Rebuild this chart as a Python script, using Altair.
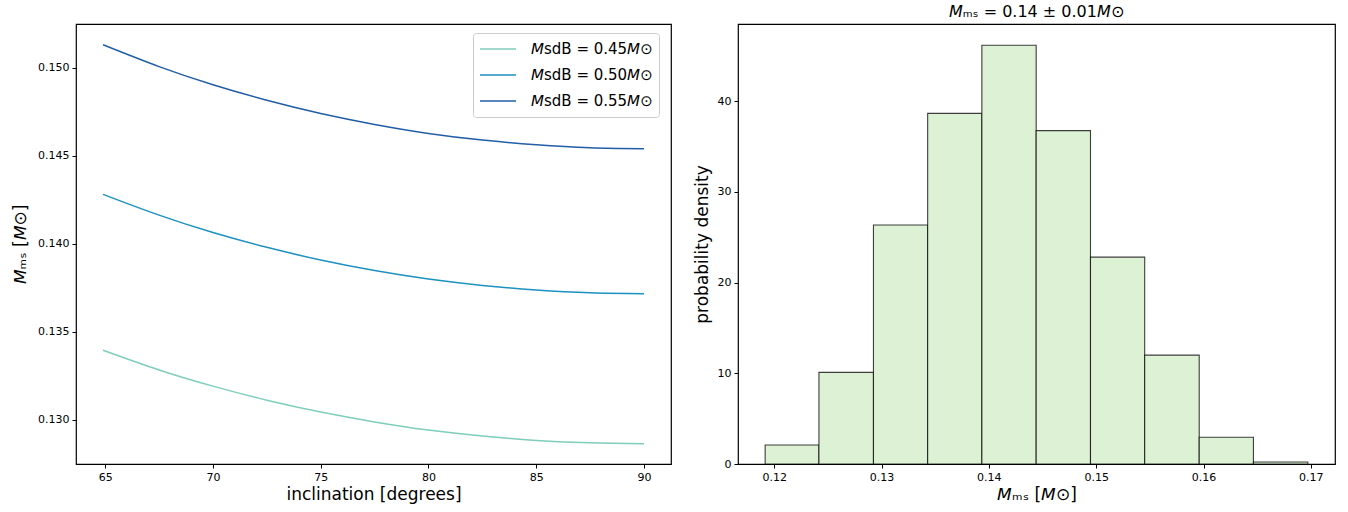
import altair as alt
import pandas as pd

# ---- left panel data ----
incl = [64.9, 67.5, 70, 72.5, 75, 77.5, 80, 82.5, 85, 87.5, 90]
m_045 = [0.13396, 0.13284, 0.13192, 0.13112, 0.13045, 0.12989, 0.12943, 0.12909, 0.12884, 0.12870, 0.12865]
m_050 = [0.14281, 0.14163, 0.14064, 0.13980, 0.13908, 0.13848, 0.13800, 0.13764, 0.13738, 0.13722, 0.13717]
m_055 = [0.15130, 0.15006, 0.14903, 0.14815, 0.14740, 0.14678, 0.14627, 0.14589, 0.14562, 0.14545, 0.14540]
series_names = ["𝘔sdB = 0.45𝘔⊙", "𝘔sdB = 0.50𝘔⊙", "𝘔sdB = 0.55𝘔⊙"]
series_colors = ["#7fcdbb", "#1d91c0", "#225ea8"]

# ---- right panel data (histogram) ----
bin_lo = [0.11916, 0.12417, 0.12925, 0.13430, 0.13935, 0.14441, 0.14947, 0.15452, 0.15960, 0.16465]
bin_hi = [0.12417, 0.12925, 0.13430, 0.13935, 0.14441, 0.14947, 0.15452, 0.15960, 0.16465, 0.16972]
density = [2.1, 10.1, 26.35, 38.65, 46.15, 36.75, 22.8, 12.0, 2.95, 0.22]

FONT = "DejaVu Sans"

rows = []
for name, vals in zip(series_names, [m_045, m_050, m_055]):
    for i, m in zip(incl, vals):
        rows.append({"incl": i, "mass": m, "series": name})
df_lines = pd.DataFrame(rows)

df_hist = pd.DataFrame({"lo": bin_lo, "hi": bin_hi, "dens": density})

left = alt.Chart(df_lines).mark_line(strokeWidth=1.5, interpolate="natural").encode(
    x=alt.X("incl:Q", scale=alt.Scale(domain=[63.645, 91.255], nice=False, zero=False),
            axis=alt.Axis(values=[65, 70, 75, 80, 85, 90], title="inclination [degrees]",
                          titlePadding=4)),
    y=alt.Y("mass:Q", scale=alt.Scale(domain=[0.12750, 0.15248], nice=False, zero=False),
            axis=alt.Axis(values=[0.130, 0.135, 0.140, 0.145, 0.150], format=".3f",
                          title="𝘔ₘₛ [𝘔⊙]", titlePadding=8)),
    color=alt.Color("series:N", sort=series_names,
                    scale=alt.Scale(domain=series_names, range=series_colors),
                    legend=alt.Legend(title=None, orient="none", legendX=397, legendY=9,
                                      symbolType="stroke", symbolSize=1296,
                                      symbolStrokeWidth=1.5, clipHeight=20, rowPadding=6,
                                      labelFontSize=15, labelFont=FONT, labelColor="black",
                                      labelOffset=14, padding=6,
                                      fillColor="white", strokeColor="#cccccc",
                                      cornerRadius=3)),
).properties(width=595, height=440)

right = alt.Chart(df_hist).mark_bar(fill="#ddf1d5", stroke="black", strokeOpacity=0.75,
                                    strokeWidth=1.1).encode(
    x=alt.X("lo:Q", scale=alt.Scale(domain=[0.11663, 0.17225], nice=False, zero=False),
            axis=alt.Axis(values=[0.12, 0.13, 0.14, 0.15, 0.16, 0.17], format=".2f",
                          title="𝘔ₘₛ [𝘔⊙]", titlePadding=4)),
    x2="hi:Q",
    y=alt.Y("dens:Q", scale=alt.Scale(domain=[0, 48.5], nice=False),
            axis=alt.Axis(values=[0, 10, 20, 30, 40], title="probability density",
                          titlePadding=6)),
    y2=alt.datum(0),
).properties(width=597, height=440,
             title=alt.TitleParams("𝘔ₘₛ = 0.14 ± 0.01𝘔⊙", fontSize=16, font=FONT,
                                   fontWeight="normal", color="black", offset=4))

chart = alt.hconcat(left, right, spacing=20).properties(
    padding={"left": 10, "top": 3, "right": 5, "bottom": 5}
).configure_view(stroke="black", strokeWidth=1.2).configure_axis(
    domain=False, grid=False, tickColor="black", tickSize=4, tickWidth=1,
    labelFont=FONT, labelFontSize=11, labelColor="black", labelPadding=3,
    titleFont=FONT, titleFontSize=17, titleFontWeight="normal", titleColor="black",
)

chart.save("out.html", embed_options={"renderer": "svg", "actions": False})
